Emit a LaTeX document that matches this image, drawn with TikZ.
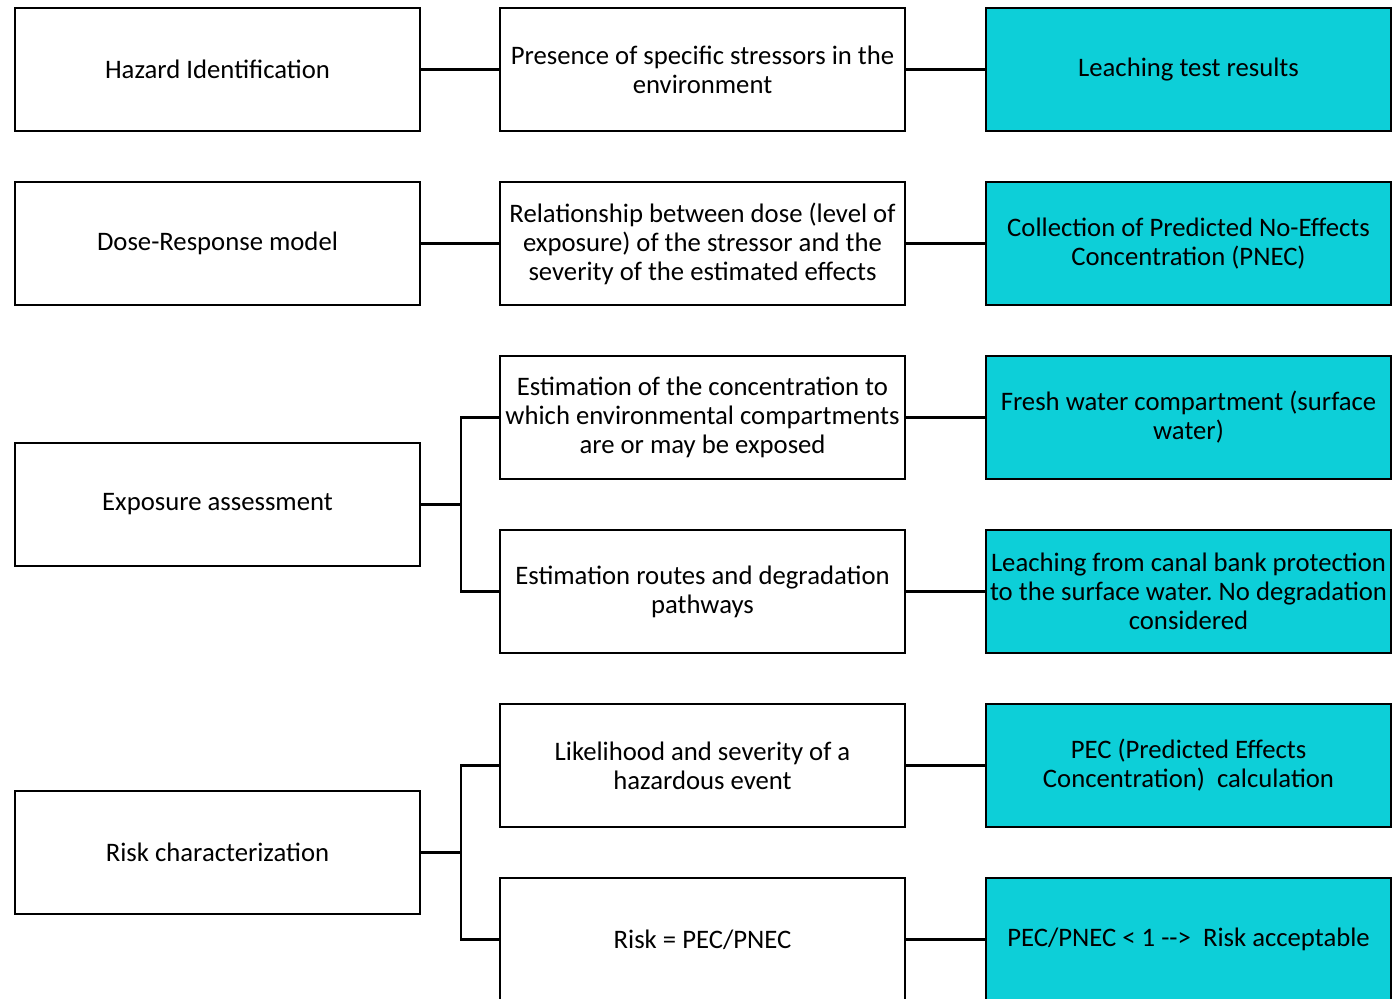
\documentclass[tikz,border=0pt]{standalone}
\usepackage{fontspec}
\setmainfont{Carlito}
\frenchspacing
\definecolor{tealbox}{RGB}{13,207,216}
\begin{document}
\begin{tikzpicture}[x=0.02cm,y=-0.02cm]
      \tikzset{box/.style={draw,line width=1.4pt,minimum width=8.1cm,minimum height=2.46cm,
          inner sep=1pt,align=center,font=\fontsize{15.2}{16.5}\selectfont}}
      \useasboundingbox (0,0) rectangle (1394,999);
      \def \Steps{
        haz/217.5/69.5/white/{Hazard Identification},
        dose/217.5/243.5/white/{Dose-Response model},
        expo/217.5/504.5/white/{Exposure assessment},
        risk/217.5/852.5/white/{Risk characterization},
        pres/702.5/69.5/white/{Presence of specific stressors in the\\environment},
        rel/702.5/243.5/white/{Relationship between dose (level of\\exposure) of the stressor and the\\severity of the estimated effects},
        conc/702.5/417.5/white/{Estimation of the concentration to\\which environmental compartments\\are or may be exposed},
        route/702.5/591.5/white/{Estimation routes and degradation\\pathways},
        like/702.5/765.5/white/{Likelihood and severity of a\\hazardous event},
        ratio/702.5/939.5/white/{Risk = PEC/PNEC},
        leach/1188.5/69.5/tealbox/{Leaching test results},
        pnec/1188.5/243.5/tealbox/{Collection of Predicted No-Effects\\Concentration (PNEC)},
        fresh/1188.5/417.5/tealbox/{Fresh water compartment (surface\\water)},
        canal/1188.5/591.5/tealbox/{Leaching from canal bank protection\\to the surface water. No degradation\\considered},
        pec/1188.5/765.5/tealbox/{PEC (Predicted Effects\\Concentration)\ \ calculation},
        accept/1188.5/939.5/tealbox/{PEC/PNEC < 1 -{}->\ \ Risk acceptable}}
      \def \Links{
        haz/pres, dose/rel,
        pres/leach, rel/pnec, conc/fresh, route/canal, like/pec, ratio/accept}
      \foreach \id / \x / \y / \c / \t in \Steps{
        \node[box,fill=\c] (\id) at (\x, \y) {\t};
      }
      \foreach \a / \b in \Links{
        \path[draw,-,line width=1.4pt] (\a) -- (\b);
      }
      % branches
      \foreach \a / \b in {expo/conc, expo/route, risk/like, risk/ratio}{
        \path[draw,-,line width=1.4pt] (\a.east) -- ++(40,0) |- (\b.west);
      }
    \end{tikzpicture}
\end{document}
